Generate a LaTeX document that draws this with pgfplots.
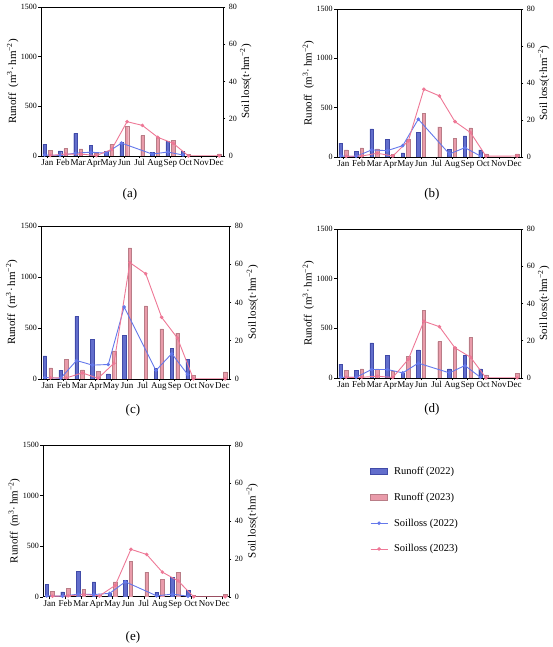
\documentclass[border=0pt]{standalone}
\usepackage{fontspec}
\setmainfont{Liberation Serif}
\usepackage{pgfplots}
\usepackage{pgfplotstable}
\pgfplotsset{compat=1.18}

\definecolor{bluebar}{RGB}{98,110,204}
\definecolor{bluebaredge}{RGB}{65,75,168}
\definecolor{pinkbar}{RGB}{233,155,170}
\definecolor{pinkbaredge}{RGB}{185,125,135}
\definecolor{blueline}{RGB}{100,120,235}
\definecolor{pinkline}{RGB}{238,120,150}

\pgfplotstableread{
m r22 r23 s22 s23
0 117 54 0.5 0.3
1 50 74 0.3 1.0
2 228 70 1.5 1.0
3 107 27 2.0 0.2
4 43 117 1.5 3.5
5 134 295 6.9 18.4
6 nan 204 nan 16.4
7 37 190 1.0 10.0
8 147 160 2.1 6.8
9 43 15 0.5 0.0
10 nan nan nan nan
11 nan 20 nan 0.0
}\tA
\pgfplotstableread{
m r22 r23 s22 s23
0 139 71 0.5 0.3
1 58 91 0.3 0.5
2 284 81 3.8 2.0
3 176 25 3.4 0.5
4 41 179 6.1 8.7
5 247 440 20.4 36.6
6 nan 305 nan 33.0
7 78 190 1.6 19.1
8 213 295 5.0 13.2
9 71 30 0.5 0.4
10 nan nan nan nan
11 nan 30 nan 0.5
}\tB
\pgfplotstableread{
m r22 r23 s22 s23
0 225 108 0.7 0.5
1 85 190 0.3 0.5
2 614 88 9.6 3.1
3 389 75 7.2 0.3
4 49 275 7.5 8.2
5 428 1284 37.6 60.8
6 nan 716 nan 55.0
7 105 490 4.4 32.2
8 301 448 13.2 21.3
9 190 33 2.3 0.0
10 nan nan nan nan
11 nan 69 nan 0.0
}\tC
\pgfplotstableread{
m r22 r23 s22 s23
0 138 74 0.3 0.3
1 74 91 0.3 0.3
2 352 91 4.5 0.9
3 225 64 4.5 0.2
4 47 215 2.7 10.0
5 282 678 7.9 30.4
6 nan 366 nan 27.5
7 91 312 2.7 16.1
8 228 406 6.6 11.1
9 91 30 0.3 0.0
10 nan nan nan nan
11 nan 44 nan 0.0
}\tD
\pgfplotstableread{
m r22 r23 s22 s23
0 122 56 0.5 0.3
1 49 86 0.3 0.5
2 254 76 1.4 1.2
3 148 16 1.2 0.5
4 33 148 1.8 6.0
5 165 349 7.9 25.0
6 nan 244 nan 22.3
7 46 175 0.5 13.0
8 195 244 1.4 8.4
9 66 16 0.3 0.0
10 nan nan nan nan
11 nan 23 nan 0.0
}\tE

\pgfplotsset{
  common/.style={
    scale only axis,
    xmin=-0.42, xmax=11.42,
    tick align=outside,
    major tick length=2.5pt,
    /pgf/number format/assume math mode=true,
    /pgf/number format/1000 sep={},
    tick style={black, line width=0.5pt},
    axis line style={black, line width=0.6pt},
    yticklabel style={font=\fontsize{8}{9}\selectfont},
  },
  runoffax/.style={common,
    ymin=0, ymax=1500, ytick={0,500,1000,1500},
    xtick={0,...,11},
    xticklabels={Jan,Feb,Mar,Apr,May,Jun,Jul,Aug,Sep,Oct,Nov,Dec},
    xticklabel style={font=\fontsize{9}{10}\selectfont, inner sep=1pt},
    xtick pos=bottom, ytick pos=left,
    yticklabel style={inner sep=1.5pt},
    ylabel={Runoff\ \ (m\textsuperscript{3}·\,hm\textsuperscript{−2})},
    every axis y label/.style={at={(axis description cs:-0.155,0.5)}, rotate=90, anchor=center, font=\fontsize{11}{12}\selectfont},
  },
  soilax/.style={common,
    ymin=0, ymax=80, ytick={0,20,40,60,80},
    axis x line=none, axis y line*=right,
    ylabel={Soil loss(t·hm\textsuperscript{−2})},
    every axis y label/.style={at={(axis description cs:1.125,0.5)}, rotate=90, anchor=center, font=\fontsize{11}{12}\selectfont},
  },
  barA/.style={ybar, bar shift=0pt, bar width=0.22, fill=bluebar, draw=bluebaredge, line width=0.4pt},
  barB/.style={ybar, bar shift=0pt, bar width=0.22, fill=pinkbar, draw=pinkbaredge, line width=0.4pt},
  lineA/.style={blueline, line width=0.9pt, mark=*, mark size=1.3pt, mark options={fill=blueline, draw=blueline}},
  lineB/.style={pinkline, line width=0.9pt, mark=*, mark size=1.3pt, mark options={fill=pinkline, draw=pinkline}},
}

\newcommand{\panel}[8]{%
  \begin{axis}[runoffax, at={(#1pt,#2pt)}, width=#3pt, height=#4pt]
    \addplot[barA] table[x expr=\thisrow{m}-0.18, y=r22] {#5};
    \addplot[barB] table[x expr=\thisrow{m}+0.18, y=r23] {#5};
  \end{axis}
  \begin{axis}[soilax, at={(#1pt,#2pt)}, width=#3pt, height=#4pt]
    \addplot[lineA] table[x expr=\thisrow{m}-0.18, y=s22] {#5};
    \addplot[lineB] table[x expr=\thisrow{m}+0.18, y=s23] {#5};
  \end{axis}
  \node[font=\fontsize{13}{15}\selectfont] at (#6pt,#7pt) {#8};
}

\begin{document}
\begin{tikzpicture}
  \path (0,0) rectangle (550pt,647pt);
  \panel{41}{491}{182}{149}{\tA}{130}{453}{(a)}
  \panel{337}{490}{184}{148}{\tB}{432}{453}{(b)}
  \panel{41}{268}{188}{153}{\tC}{133}{236}{(c)}
  \panel{337}{269}{184}{149}{\tD}{432}{237}{(d)}
  \panel{43}{50}{186}{152}{\tE}{133}{9}{(e)}
  \begin{axis}[hide axis, scale only axis, width=10pt, height=10pt,
      at={(370pt,172pt)}, xmin=0, xmax=1, ymin=0, ymax=1,
      legend style={at={(0,1)}, anchor=north west, draw=none, fill=none,
        inner sep=0pt, row sep=13pt,
        /tikz/every odd column/.append style={column sep=4pt},
        font=\fontsize{10.5}{12}\selectfont},
      legend cell align=left]
    \addlegendimage{area legend, fill=bluebar, draw=bluebaredge}
    \addlegendentry{Runoff (2022)}
    \addlegendimage{area legend, fill=pinkbar, draw=pinkbaredge}
    \addlegendentry{Runoff (2023)}
    \addlegendimage{lineA}
    \addlegendentry{Soilloss (2022)}
    \addlegendimage{lineB}
    \addlegendentry{Soilloss (2023)}
  \end{axis}
\end{tikzpicture}
\end{document}
